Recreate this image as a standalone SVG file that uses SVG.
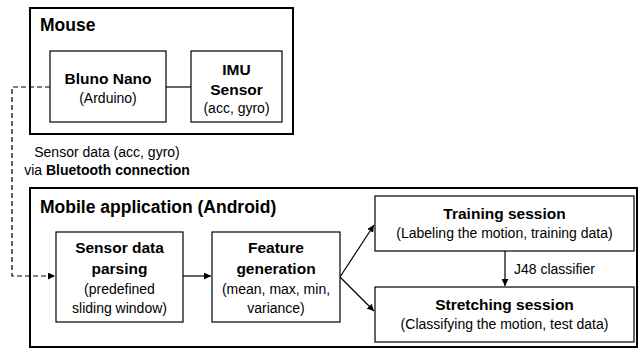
<svg xmlns="http://www.w3.org/2000/svg" width="639" height="350" viewBox="0 0 639 350">
<style>
text{font-family:"Liberation Sans",Arial,sans-serif;fill:#000;}
.t{font-size:17.5px;font-weight:bold;}
.h{font-size:15.5px;font-weight:bold;text-anchor:middle;}
.r{font-size:14px;text-anchor:middle;}
.big{fill:#fff;stroke:#000;stroke-width:2;}
.box{fill:#fff;stroke:#000;stroke-width:1.2;}
.ln{fill:none;stroke:#000;stroke-width:1.2;}
.dash{fill:none;stroke:#000;stroke-width:1.2;stroke-dasharray:5,3;}
</style>
<defs>
<marker id="ah" viewBox="0 0 10 10" refX="10" refY="5" markerWidth="7" markerHeight="7" orient="auto" markerUnits="userSpaceOnUse">
<path d="M0,0 L10,5 L0,10 z" fill="#000"/>
</marker>
</defs>
<g id="mouse">
<rect class="big" x="30" y="8" width="263" height="126"/>
<text class="t" x="40" y="31">Mouse</text>
</g>
<g id="mobile">
<rect class="big" x="30" y="188" width="607" height="159"/>
<text class="t" x="40" y="213">Mobile application (Android)</text>
</g>
<g id="connectors">
<line class="ln" x1="166" y1="87" x2="191" y2="87" stroke="#444"/>
<path class="dash" d="M50,87 H12 V276 H55" marker-end="url(#ah)"/>
<line class="ln" x1="183" y1="276" x2="211" y2="276" marker-end="url(#ah)"/>
<line class="ln" x1="340" y1="277" x2="374" y2="225" marker-end="url(#ah)"/>
<line class="ln" x1="340" y1="277" x2="374" y2="311" marker-end="url(#ah)"/>
<line class="ln" x1="505" y1="251" x2="505" y2="286" marker-end="url(#ah)"/>
<text class="r" x="514" y="274" style="text-anchor:start">J48 classifier</text>
<text class="r" x="107" y="157">Sensor data (acc, gyro)</text>
<text class="r" x="107" y="175">via <tspan font-weight="bold">Bluetooth connection</tspan></text>
</g>
<g id="bluno">
<rect class="box" x="50" y="51" width="116" height="71"/>
<text class="h" x="108" y="84">Bluno Nano</text>
<text class="r" x="108" y="103">(Arduino)</text>
</g>
<g id="imu">
<rect class="box" x="191" y="51" width="91" height="71"/>
<text class="h" x="236.5" y="75">IMU</text>
<text class="h" x="236.5" y="95">Sensor</text>
<text class="r" x="236.5" y="113">(acc, gyro)</text>
</g>
<g id="parsing">
<rect class="box" x="56" y="232" width="127" height="90"/>
<text class="h" x="119.5" y="253">Sensor data</text>
<text class="h" x="119.5" y="274">parsing</text>
<text class="r" x="119.5" y="294">(predefined</text>
<text class="r" x="119.5" y="313">sliding window)</text>
</g>
<g id="feature">
<rect class="box" x="212" y="232" width="128" height="90"/>
<text class="h" x="276" y="253">Feature</text>
<text class="h" x="276" y="274">generation</text>
<text class="r" x="276" y="294">(mean, max, min,</text>
<text class="r" x="276" y="313">variance)</text>
</g>
<g id="training">
<rect class="box" x="375" y="196" width="259" height="55"/>
<text class="h" x="504.5" y="219">Training session</text>
<text class="r" x="504.5" y="238">(Labeling the motion, training data)</text>
</g>
<g id="stretching">
<rect class="box" x="375" y="287" width="259" height="55"/>
<text class="h" x="504.5" y="310">Stretching session</text>
<text class="r" x="504.5" y="329">(Classifying the motion, test data)</text>
</g>
</svg>
